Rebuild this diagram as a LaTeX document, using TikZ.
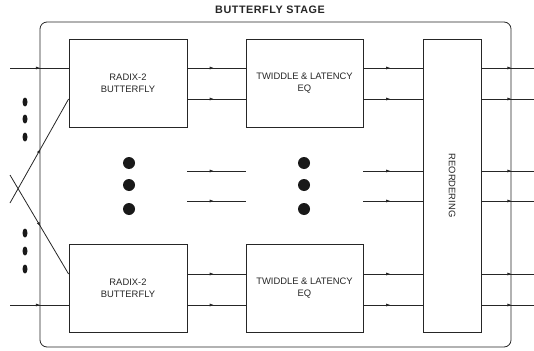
\documentclass[tikz,border=0pt]{standalone}
\usepackage{fontspec}
\setmainfont{Liberation Sans}
\usetikzlibrary{arrows.meta,decorations.markings}

\tikzset{
  blk/.style={draw=black!85, line width=0.8pt, align=center, inner sep=0pt,
    font=\fontsize{9.4}{12}\selectfont, text=black!85},
  sig/.style={draw=black!85, line width=0.8pt, postaction={decorate},
    decoration={markings, mark=at position #1 with {\arrow{Latex[length=4.5pt,width=3pt]}}}},
  sig/.default=0.46,
}

\begin{document}
\begin{tikzpicture}[x=1pt,y=-1pt]
\useasboundingbox (0,0) rectangle (534,350);
% stage frame and title
\draw[black!85, line width=0.8pt, rounded corners=7pt] (40,22) rectangle (511,347);
\node[font=\bfseries\fontsize{10.8}{12}\selectfont\addfontfeature{LetterSpace=5}, text=black!85] (title) at (270,10) {BUTTERFLY STAGE};

% blocks
\node[blk, minimum width=118pt, minimum height=88pt] (bfA) at (128,83) {RADIX-2\\BUTTERFLY};
\node[blk, minimum width=117pt, minimum height=88pt] (twA) at (304.5,83) {TWIDDLE \& LATENCY\\EQ};
\node[blk, minimum width=118pt, minimum height=88pt] (bfB) at (128,288) {RADIX-2\\BUTTERFLY};
\node[blk, minimum width=117pt, minimum height=88pt] (twB) at (304.5,288) {TWIDDLE \& LATENCY\\EQ};
\node[blk, minimum width=58pt, minimum height=293pt] (reord) at (452,185.5) {};
\node[rotate=-90, font=\fontsize{9.4}{12}\selectfont, text=black!85] (reordtxt) at (reord.center) {REORDERING};

% inputs
\coordinate (inA) at (10,68);
\coordinate (inB) at (10,305);
\coordinate (xA) at (10,203);
\coordinate (xB) at (10,175);
\draw[sig=0.52] (inA) -- (bfA.west |- inA);
\draw[sig=0.52] (inB) -- (bfB.west |- inB);
\draw[sig=0.52] (xA) -- (bfA.west |- 0,99);
\draw[sig=0.52] (xB) -- (bfB.west |- 0,274);

% block to block
\foreach \s/\y in {A/68,A/99,B/274,B/305} {
    \draw[sig] (bf\s.east |- 0,\y) -- (tw\s.west |- 0,\y);
    \draw[sig] (tw\s.east |- 0,\y) -- (reord.west |- 0,\y);
}
\foreach \y in {171,201} {
    \draw[sig] (bfA.east |- 0,\y) -- (twA.west |- 0,\y);
    \draw[sig] (twA.east |- 0,\y) -- (reord.west |- 0,\y);
}

% outputs
\foreach \y in {68,99,171,201,274,305} {
    \coordinate (out\y) at (534,\y);
    \draw[sig=0.58] (reord.east |- out\y) -- (out\y);
}

% dots
\foreach \x in {129,304} {
    \foreach \y in {163,185,209} {
        \fill[black!90] (\x,\y) circle (6pt);
    }
}
\foreach \y in {102,119,137,233,251,269} {
    \fill[black!90] (25,\y) ellipse (2.5pt and 4.5pt);
}
\end{tikzpicture}
\end{document}
